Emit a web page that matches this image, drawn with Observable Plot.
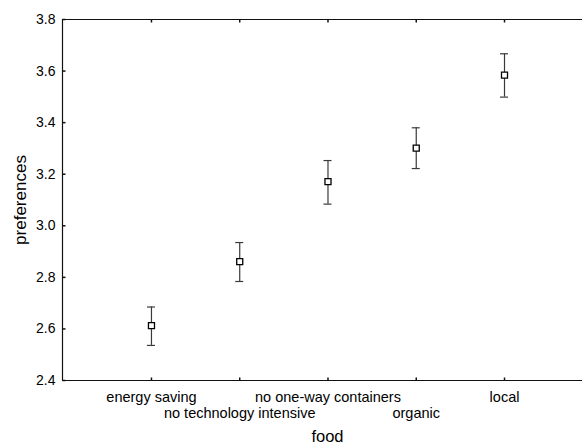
<!DOCTYPE html>
<html><head><meta charset="utf-8">
<script src="https://cdn.jsdelivr.net/npm/d3@7"></script>
<script src="https://cdn.jsdelivr.net/npm/@observablehq/plot@0.6"></script>
<style>body{margin:0;background:#fff} svg{font-family:"Liberation Sans",Arial,sans-serif}</style>
</head><body><div id="chart"></div>
<script>
const categories = ["energy saving", "no technology intensive", "no one-way containers", "organic", "local"];
const means = [2.613, 2.861, 3.171, 3.301, 3.584];
const lower = [2.536, 2.784, 3.084, 3.222, 3.499];
const upper = [2.685, 2.935, 3.253, 3.380, 3.667];
const yTicks = [2.4, 2.6, 2.8, 3.0, 3.2, 3.4, 3.6, 3.8];
const xLabel = "food";
const yLabel = "preferences";

const data = categories.map((c, i) => ({i, c, mean: means[i], lo: lower[i], hi: upper[i], row: i % 2}));
const idx = data.map(d => d.i);
const xDomain = [-1.008, 4.895];
const yDomain = [2.4, 3.8];
const barColor = "#3a3a3a";

// small inward tick-line symbols (drawn relative to the anchor point)
const tickUp = {draw(ctx) { ctx.moveTo(0, 0); ctx.lineTo(0, -3); }};
const tickDown = {draw(ctx) { ctx.moveTo(0, 0); ctx.lineTo(0, 3); }};
const tickRight = {draw(ctx) { ctx.moveTo(0, 0); ctx.lineTo(3, 0); }};

const chart = Plot.plot({
  width: 583,
  height: 445,
  marginLeft: 62,
  marginRight: 0,
  marginTop: 19,
  marginBottom: 65,
  style: {fontFamily: "'Liberation Sans', Arial, sans-serif", color: "black", background: "white"},
  x: {type: "linear", domain: xDomain, axis: null},
  y: {domain: yDomain, axis: null},
  marks: [
    // frame: left, top, bottom
    Plot.ruleX([xDomain[0]], {stroke: "#111", strokeWidth: 1.2}),
    Plot.ruleY(yDomain, {stroke: "#111", strokeWidth: 1.2, insetRight: 1}),
    // inward ticks
    Plot.dot(yTicks, {x: () => xDomain[0], y: d => d, symbol: tickRight, stroke: "#111", fill: "none", r: 3}),
    Plot.dot(idx, {x: d => d, y: () => yDomain[0], symbol: tickUp, stroke: "#111", fill: "none", r: 3}),
    Plot.dot(idx, {x: d => d, y: () => yDomain[1], symbol: tickDown, stroke: "#111", fill: "none", r: 3}),
    // y tick labels
    Plot.axisY({ticks: yTicks, tickSize: 0, tickPadding: 7, tickFormat: d3.format(".1f"), fontSize: 14, label: null, fill: "black"}),
    // error bars
    Plot.ruleX(data, {x: "i", y1: "lo", y2: "hi", stroke: barColor, strokeWidth: 1.2}),
    Plot.ruleY(data, {y: "hi", x1: "i", x2: "i", insetLeft: -4, insetRight: -4, stroke: barColor, strokeWidth: 1.2}),
    Plot.ruleY(data, {y: "lo", x1: "i", x2: "i", insetLeft: -4, insetRight: -4, stroke: barColor, strokeWidth: 1.2}),
    Plot.dot(data, {x: "i", y: "mean", symbol: "square", r: 3.4, stroke: "black", fill: "white", strokeWidth: 1.3}),
    // category labels (staggered)
    Plot.text(data.filter(d => d.row === 0), {x: "i", text: "c", frameAnchor: "bottom", lineAnchor: "middle", dy: 17, fontSize: 14.5, fill: "black"}),
    Plot.text(data.filter(d => d.row === 1), {x: "i", text: "c", frameAnchor: "bottom", lineAnchor: "middle", dy: 33, fontSize: 14.5, fill: "black"}),
    // axis titles
    Plot.text([xLabel], {frameAnchor: "bottom", text: d => d, lineAnchor: "middle", dx: 4.5, dy: 56, fontSize: 16.5, fill: "black"}),
    Plot.text([yLabel], {frameAnchor: "left", text: d => d, rotate: -90, lineAnchor: "middle", textAnchor: "middle", dx: -42, fontSize: 17, fill: "black"})
  ]
});
document.getElementById("chart").appendChild(chart);
</script>
</body></html>
